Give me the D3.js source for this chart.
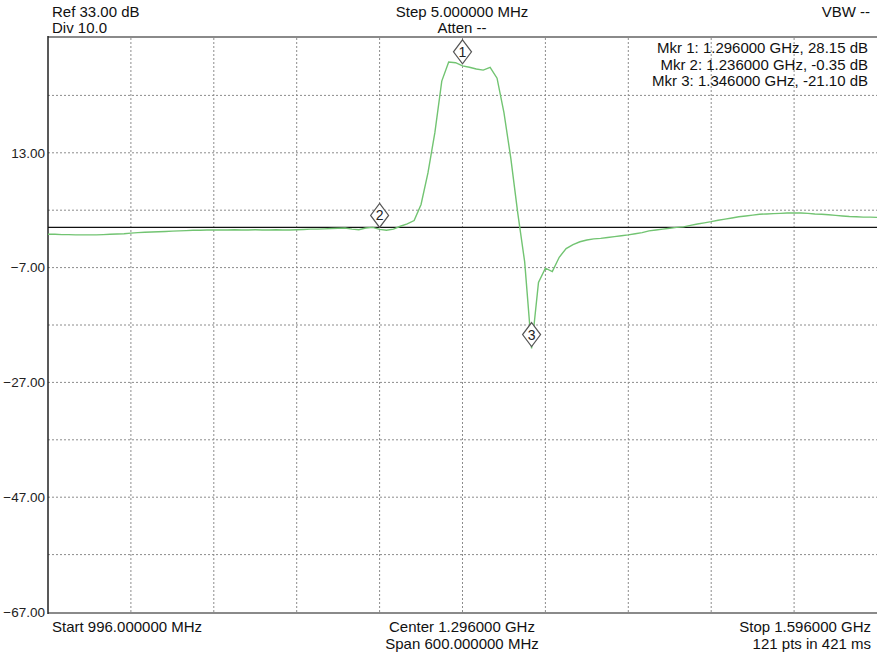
<!DOCTYPE html>
<html>
<head>
<meta charset="utf-8">
<script src="https://cdn.jsdelivr.net/npm/d3@7"></script>
<style>
  html, body { margin: 0; padding: 0; background: #fff; }
  svg { display: block; font-family: "Liberation Sans", Arial, sans-serif; }
</style>
</head>
<body>
<div id="diagram"></div>
<script>
!(function () {
  // - - - - - - - - - -

  // sweep settings
  const startMHz = 996, stopMHz = 1596, stepMHz = 5;
  const refDb = 33, bottomDb = -67;

  // trace values (dB), one per sweep point
  const traceDb = [
    -1.2, -1.2, -1.25, -1.25, -1.3, -1.3, -1.3, -1.3, -1.25, -1.2,
    -1.15, -1.1, -1.0, -0.9, -0.85, -0.8, -0.75, -0.7, -0.65, -0.6,
    -0.55, -0.5, -0.5, -0.45, -0.45, -0.45, -0.45, -0.4, -0.45, -0.45,
    -0.4, -0.45, -0.45, -0.4, -0.45, -0.45, -0.4, -0.35, -0.3, -0.3,
    -0.25, -0.2, -0.15, -0.1, -0.3, -0.4, -0.1, 0.0, -0.35, -0.5,
    -0.3, 0.2, 0.6, 1.2, 4.0, 9.5, 16.5, 25.5, 28.8, 28.7,
    28.15, 27.9, 27.6, 27.4, 27.9, 26.0, 20.0, 12.0, 2.5, -6.0,
    -21.1, -9.6, -7.1, -7.7, -5.2, -3.7, -3.0, -2.5, -2.2, -2.0,
    -1.9, -1.75, -1.6, -1.45, -1.3, -1.1, -0.9, -0.6, -0.45, -0.3,
    -0.15, 0.0, 0.1, 0.35, 0.6, 0.8, 1.0, 1.25, 1.45, 1.65,
    1.85, 2.0, 2.15, 2.3, 2.35, 2.4, 2.45, 2.5, 2.5, 2.5,
    2.45, 2.35, 2.3, 2.2, 2.1, 2.0, 1.9, 1.85, 1.8, 1.8,
    1.75
  ];
  const freqs = d3.range(traceDb.length).map(i => startMHz + i * stepMHz);

  // markers
  const markerIds = [1, 2, 3];
  const markerMHz = [1296, 1236, 1346];
  const markerDb = [28.15, -0.35, -21.10];

  // axis ticks
  const yLabelTicks = [13, -7, -27, -47, -67];
  const yGridTicks = d3.range(refDb - 10, bottomDb, -10);
  const xGridTicks = d3.range(startMHz + 60, stopMHz, 60);

  const width = 877, height = 657;
  const left = 48, right = 877, top = 38, bottom = 612;

  const x = d3.scaleLinear().domain([startMHz, stopMHz]).range([left, right]);
  const y = d3.scaleLinear().domain([bottomDb, refDb]).range([bottom, top]);

  const svg = d3.select('#diagram')
    .append('svg')
    .attr('width', width)
    .attr('height', height)
    .attr('viewBox', '0 0 ' + width + ' ' + height);

  // grid
  svg.append('g')
    .selectAll('line')
    .data(yGridTicks)
    .enter()
    .append('line')
    .attr('x1', left).attr('x2', right)
    .attr('y1', d => y(d)).attr('y2', d => y(d))
    .style('stroke', '#8c8c8c')
    .style('stroke-dasharray', '2,2');

  svg.append('g')
    .selectAll('line')
    .data(xGridTicks)
    .enter()
    .append('line')
    .attr('x1', d => x(d)).attr('x2', d => x(d))
    .attr('y1', top).attr('y2', bottom)
    .style('stroke', '#8c8c8c')
    .style('stroke-dasharray', '2,2');

  // y labels
  const yAxis = svg.append('g')
    .attr('transform', 'translate(' + left + ',0)')
    .call(d3.axisLeft(y).tickValues(yLabelTicks).tickFormat(d3.format('.2f')).tickSize(0).tickPadding(3));
  yAxis.select('.domain').remove();
  yAxis.selectAll('text')
    .style('font-family', '"Liberation Sans", Arial, sans-serif')
    .style('font-size', '13.5px')
    .style('fill', '#222');

  // frame
  svg.append('line')
    .attr('x1', left).attr('x2', right).attr('y1', top - 1).attr('y2', top - 1)
    .style('stroke', '#8a8a8a').style('stroke-width', 2);
  svg.append('line')
    .attr('x1', left).attr('x2', right).attr('y1', bottom + 1).attr('y2', bottom + 1)
    .style('stroke', '#8a8a8a').style('stroke-width', 2);
  svg.append('line')
    .attr('x1', left).attr('x2', left).attr('y1', top - 2).attr('y2', bottom + 2)
    .style('stroke', '#222').style('stroke-width', 1.5);

  // zero reference line
  svg.append('line')
    .attr('x1', left).attr('x2', right).attr('y1', y(0)).attr('y2', y(0))
    .style('stroke', '#111').style('stroke-width', 1.2);

  // trace
  const line = d3.line()
    .x((d, i) => x(freqs[i]))
    .y(d => y(d));

  svg.append('path')
    .datum(traceDb)
    .attr('d', line)
    .style('fill', 'none')
    .style('stroke', '#72c472')
    .style('stroke-width', 1.4);

  // marker diamonds
  const mk = svg.append('g')
    .selectAll('g')
    .data(markerIds)
    .enter()
    .append('g')
    .attr('transform', (d, i) => 'translate(' + x(markerMHz[i]) + ',' + (y(markerDb[i]) - 14) + ')');
  mk.append('path')
    .attr('d', 'M0,-12L9,0L0,12L-9,0Z')
    .style('fill', '#fff')
    .style('stroke', '#555')
    .style('stroke-width', 1.2);
  mk.append('text')
    .attr('text-anchor', 'middle')
    .attr('y', 5)
    .style('font-size', '14px')
    .style('fill', '#222')
    .text(d => d);

  // header / footer text
  const texts = [
    ['Ref 33.00 dB', 52, 17, 'start'],
    ['Div 10.0', 52, 33, 'start'],
    ['Step 5.000000 MHz', 462, 17, 'middle'],
    ['Atten --', 462, 33, 'middle'],
    ['VBW --', 870, 17, 'end'],
    ['Start 996.000000 MHz', 52, 632, 'start'],
    ['Center 1.296000 GHz', 462, 632, 'middle'],
    ['Span 600.000000 MHz', 462, 649, 'middle'],
    ['Stop 1.596000 GHz', 871, 632, 'end'],
    ['121 pts in 421 ms', 871, 649, 'end']
  ];
  svg.append('g')
    .selectAll('text')
    .data(texts)
    .enter()
    .append('text')
    .attr('x', d => d[1])
    .attr('y', d => d[2])
    .attr('text-anchor', d => d[3])
    .style('font-size', '15px')
    .style('fill', '#111')
    .text(d => d[0]);

  // marker readout
  svg.append('g')
    .selectAll('text')
    .data(markerIds)
    .enter()
    .append('text')
    .attr('x', 868)
    .attr('y', (d, i) => 53 + i * 16.5)
    .attr('text-anchor', 'end')
    .style('font-size', '15px')
    .style('fill', '#111')
    .text((d, i) => 'Mkr ' + d + ': ' + (markerMHz[i] / 1000).toFixed(6) + ' GHz, ' + markerDb[i].toFixed(2) + ' dB');

  // - - - - - - - - - -
}());
</script>
</body>
</html>
